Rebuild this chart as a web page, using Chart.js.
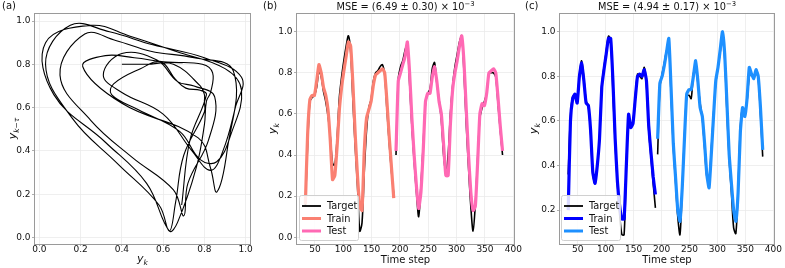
<!DOCTYPE html>
<html>
<head>
<meta charset="utf-8">
<script src="https://cdn.jsdelivr.net/npm/chart.js@4.4.1/dist/chart.umd.min.js"></script>
<style>
  body { margin: 0; background: #fff; }
  #wrap { position: relative; width: 785px; height: 268px; }
  canvas { position: absolute; top: 0; }
</style>
</head>
<body>
<div id="wrap">
  <canvas id="phaseChart" width="262" height="268" style="left:0"></canvas>
  <canvas id="predChartB" width="262" height="268" style="left:262px"></canvas>
  <canvas id="predChartC" width="261" height="268" style="left:524px"></canvas>
</div>
<script>
// time steps (every 4th step), train part and test part
const trainSteps = Array.from({length: 40}, (_, i) => 33 + 4 * i);   // 33 .. 189
const testSteps = Array.from({length: 48}, (_, i) => 193 + 4 * i);   // 193 .. 381

// panel (b)
const targetTrainB = [
    0.15, 0.45, 0.66, 0.68, 0.69, 0.73, 0.81, 0.78, 0.71, 0.66,
    0.59, 0.49, 0.36, 0.35, 0.48, 0.68, 0.78, 0.86, 0.93, 0.98,
    0.90, 0.66, 0.44, 0.25, 0.03, 0.07, 0.32, 0.52, 0.63, 0.67,
    0.76, 0.80, 0.81, 0.83, 0.84, 0.79, 0.62, 0.46, 0.32, 0.21
];
const targetTestB = [
    0.40, 0.77, 0.83, 0.86, 0.91, 0.94, 0.75, 0.54, 0.37, 0.22,
    0.10, 0.25, 0.45, 0.65, 0.70, 0.72, 0.82, 0.85, 0.75, 0.67,
    0.57, 0.40, 0.31, 0.40, 0.60, 0.74, 0.83, 0.89, 0.95, 0.98,
    0.80, 0.55, 0.34, 0.15, 0.03, 0.16, 0.38, 0.58, 0.63, 0.66,
    0.70, 0.80, 0.80, 0.80, 0.78, 0.65, 0.52, 0.40
];
const predTrainB = [
    0.16, 0.50, 0.67, 0.69, 0.69, 0.76, 0.84, 0.80, 0.73, 0.69,
    0.62, 0.47, 0.28, 0.30, 0.44, 0.62, 0.73, 0.81, 0.88, 0.95,
    0.93, 0.74, 0.50, 0.30, 0.15, 0.13, 0.42, 0.58, 0.62, 0.66,
    0.74, 0.79, 0.80, 0.81, 0.82, 0.80, 0.66, 0.49, 0.34, 0.19
];
const predTestB = [
    0.42, 0.76, 0.80, 0.84, 0.88, 0.95, 0.80, 0.58, 0.40, 0.25,
    0.14, 0.22, 0.42, 0.66, 0.70, 0.70, 0.78, 0.83, 0.76, 0.66,
    0.60, 0.45, 0.30, 0.30, 0.55, 0.72, 0.80, 0.86, 0.93, 0.98,
    0.85, 0.62, 0.40, 0.22, 0.13, 0.15, 0.36, 0.60, 0.65, 0.64,
    0.70, 0.80, 0.81, 0.82, 0.80, 0.68, 0.54, 0.42
];

// panel (c)
const targetTrainC = [
    0.36, 0.62, 0.71, 0.71, 0.69, 0.80, 0.87, 0.79, 0.69, 0.665,
    0.55, 0.36, 0.32, 0.40, 0.52, 0.76, 0.84, 0.91, 0.98, 0.96,
    0.73, 0.50, 0.32, 0.18, 0.09, 0.09, 0.40, 0.60, 0.58, 0.60,
    0.71, 0.81, 0.80, 0.79, 0.84, 0.76, 0.56, 0.44, 0.32, 0.21
];
const targetTestC = [
    0.45, 0.75, 0.81, 0.86, 0.915, 0.93, 0.72, 0.485, 0.33, 0.17,
    0.09, 0.30, 0.53, 0.71, 0.715, 0.70, 0.81, 0.85, 0.77, 0.68,
    0.61, 0.48, 0.35, 0.33, 0.47, 0.63, 0.77, 0.84, 0.91, 0.99,
    0.88, 0.64, 0.43, 0.28, 0.12, 0.095, 0.30, 0.57, 0.66, 0.64,
    0.69, 0.80, 0.81, 0.79, 0.82, 0.79, 0.63, 0.44
];
const predTrainC = [
    0.20, 0.60, 0.70, 0.72, 0.68, 0.80, 0.86, 0.78, 0.68, 0.67,
    0.56, 0.37, 0.32, 0.40, 0.52, 0.75, 0.83, 0.90, 0.97, 0.97,
    0.78, 0.52, 0.33, 0.22, 0.16, 0.16, 0.40, 0.63, 0.57, 0.59,
    0.70, 0.80, 0.81, 0.80, 0.83, 0.78, 0.58, 0.46, 0.35, 0.27
];
const predTestC = [
    0.52, 0.77, 0.80, 0.85, 0.91, 0.97, 0.75, 0.50, 0.35, 0.20,
    0.15, 0.30, 0.52, 0.72, 0.74, 0.74, 0.80, 0.87, 0.78, 0.66,
    0.62, 0.50, 0.36, 0.30, 0.45, 0.62, 0.78, 0.84, 0.92, 1.00,
    0.90, 0.68, 0.45, 0.32, 0.20, 0.15, 0.28, 0.55, 0.66, 0.62,
    0.70, 0.84, 0.81, 0.79, 0.83, 0.80, 0.66, 0.47
];

// tick labels
const unitTicks = [0, 0.2, 0.4, 0.6, 0.8, 1.0];
const stepTicks = [50, 100, 150, 200, 250, 300, 350, 400];

// delay for the phase plot: 4 samples = 16 time steps
const lag = 4;

const FONT = '"DejaVu Sans", sans-serif';
const TXT = '#111';

function pts(xs, ys) {
    return xs.map((x, i) => ({x: x, y: ys[i]}));
}

// y with an italic subscript, optionally rotated
function drawMath(ctx, base, sub, x, y, rotate) {
    ctx.save();
    ctx.translate(x, y);
    if (rotate) ctx.rotate(-Math.PI / 2);
    ctx.fillStyle = TXT;
    ctx.textAlign = 'left';
    ctx.textBaseline = 'alphabetic';
    ctx.font = 'italic 11px ' + FONT;
    const wb = ctx.measureText(base).width;
    ctx.font = 'italic 7.5px ' + FONT;
    const ws = ctx.measureText(sub).width;
    const x0 = -(wb + ws) / 2;
    ctx.font = 'italic 11px ' + FONT;
    ctx.fillText(base, x0, 2.5);
    ctx.font = 'italic 7.5px ' + FONT;
    ctx.fillText(sub, x0 + wb, 5.5);
    ctx.restore();
}

// frame, panel letter, titles, legend
const decor = {
    id: 'decor',
    afterDraw(chart, args, o) {
        const ctx = chart.ctx;
        const a = chart.chartArea;
        ctx.save();
        ctx.strokeStyle = '#9a9a9a';
        ctx.lineWidth = 1;
        ctx.strokeRect(Math.round(a.left) + 0.5, Math.round(a.top) + 0.5,
            Math.round(a.right - a.left) - 1, Math.round(a.bottom - a.top));

        ctx.fillStyle = TXT;
        ctx.font = '10px ' + FONT;
        ctx.textBaseline = 'middle';
        ctx.textAlign = 'left';
        ctx.fillText(o.letter, o.letterX, 6);

        const cx = (a.left + a.right) / 2;
        if (o.title) {
            ctx.font = '9.8px ' + FONT;
            const w1 = ctx.measureText(o.title).width;
            ctx.font = '6.8px ' + FONT;
            const w2 = ctx.measureText(o.sup).width;
            const x0 = cx - (w1 + w2) / 2;
            ctx.textAlign = 'left';
            ctx.font = '9.8px ' + FONT;
            ctx.fillText(o.title, x0, 7);
            ctx.font = '6.8px ' + FONT;
            ctx.fillText(o.sup, x0 + w1, 4);
        }
        if (o.xTitle) {
            ctx.font = '10px ' + FONT;
            ctx.textAlign = 'center';
            ctx.fillText(o.xTitle, cx, 260);
        } else {
            drawMath(ctx, 'y', 'k', cx, 259, false);
        }
        drawMath(ctx, 'y', o.ySub, o.yTitleX, (a.top + a.bottom) / 2, true);

        if (o.legend) {
            const L = o.legend;
            ctx.fillStyle = 'rgba(255,255,255,0.85)';
            ctx.strokeStyle = '#d0d0d0';
            ctx.lineWidth = 1;
            ctx.beginPath();
            ctx.roundRect(L.x + 0.5, 195.5, 59, 45, 2);
            ctx.fill();
            ctx.stroke();
            L.items.forEach((it, i) => {
                const y = 206 + i * 12.5;
                ctx.strokeStyle = it.color;
                ctx.lineWidth = it.width;
                ctx.beginPath();
                ctx.moveTo(L.x + 3, y);
                ctx.lineTo(L.x + 22, y);
                ctx.stroke();
                ctx.fillStyle = TXT;
                ctx.font = '9.8px ' + FONT;
                ctx.textAlign = 'left';
                ctx.textBaseline = 'middle';
                ctx.fillText(it.label, L.x + 28, y + 0.5);
            });
        }
        ctx.restore();
    }
};

function axis(min, max, ticks, size, isX) {
    return {
        type: 'linear',
        min: min,
        max: max,
        afterBuildTicks: s => { s.ticks = ticks.map(v => ({value: v})); },
        afterFit: s => { if (isX) s.height = size; else s.width = size; },
        border: {display: false},
        grid: {color: '#ebebeb', lineWidth: 0.8, tickColor: '#9a9a9a', tickLength: 2},
        ticks: {
            font: {family: FONT, size: 9},
            color: TXT,
            padding: isX ? -1.5 : 1.5,
            maxRotation: 0,
            autoSkip: false,
            callback: v => isX && max > 2 ? String(v) : v.toFixed(1)
        }
    };
}

// (a) phase portrait built from the target of panel (b)
const targetAllB = targetTrainB.concat(targetTestB);
const phasePts = targetAllB.slice(lag).map((v, i) => ({x: v, y: targetAllB[i]}));

new Chart(document.getElementById('phaseChart'), {
    type: 'scatter',
    data: {
        datasets: [{
            data: phasePts,
            showLine: true,
            borderColor: '#000',
            borderWidth: 1.1,
            pointRadius: 0,
            tension: 0.4
        }]
    },
    options: {
        animation: false,
        responsive: false,
        devicePixelRatio: 1,
        layout: {padding: {left: 0, right: 11, top: 13, bottom: 0}},
        scales: {
            x: axis(-0.026, 1.026, unitTicks, 24, true),
            y: axis(-0.03, 1.037, unitTicks, 34, false)
        },
        plugins: {
            legend: {display: false},
            tooltip: {enabled: false},
            decor: {letter: '(a)', letterX: 2, ySub: 'k\u2212\u03c4', yTitleX: 13}
        }
    },
    plugins: [decor]
});

function seriesChart(id, tgtTrain, tgtTest, prTrain, prTest, cols, yMin, yMax, yTicks, padRight, yWidth, title) {
    const target = pts(trainSteps, tgtTrain).concat([{x: 191, y: null}], pts(testSteps, tgtTest));
    return new Chart(document.getElementById(id), {
        type: 'line',
        data: {
            datasets: [
                {label: 'Target', data: target, borderColor: '#000', borderWidth: 1.6,
                 pointRadius: 0, tension: 0.3, order: 3},
                {label: 'Train', data: pts(trainSteps, prTrain), borderColor: cols[0], borderWidth: 3.2,
                 pointRadius: 0, tension: 0.15, order: 2},
                {label: 'Test', data: pts(testSteps, prTest), borderColor: cols[1], borderWidth: 3.2,
                 pointRadius: 0, tension: 0.15, order: 1}
            ]
        },
        options: {
            animation: false,
            responsive: false,
            devicePixelRatio: 1,
            layout: {padding: {left: 0, right: padRight, top: 13, bottom: 0}},
            scales: {
                x: axis(16.5, 403, stepTicks, 24, true),
                y: axis(yMin, yMax, yTicks, yWidth, false)
            },
            plugins: {
                legend: {display: false},
                tooltip: {enabled: false},
                decor: {
                    letter: title.letter, letterX: 1, ySub: 'k', yTitleX: title.yx,
                    title: title.text, sup: '\u22123', xTitle: 'Time step',
                    legend: {x: title.lx, items: [
                        {label: 'Target', color: '#000', width: 1.8},
                        {label: 'Train', color: cols[0], width: 3},
                        {label: 'Test', color: cols[1], width: 3}
                    ]}
                }
            }
        },
        plugins: [decor]
    });
}

seriesChart('predChartB', targetTrainB, targetTestB, predTrainB, predTestB,
    ['#fa8072', '#ff69b4'], -0.033, 1.091, unitTicks, 9, 34,
    {letter: '(b)', text: 'MSE = (6.49 \u00b1 0.30) \u00d7 10', yx: 11, lx: 37});

seriesChart('predChartC', targetTrainC, targetTestC, predTrainC, predTestC,
    ['#0000ff', '#1e90ff'], 0.048, 1.084, unitTicks.slice(1), 10, 35,
    {letter: '(c)', text: 'MSE = (4.94 \u00b1 0.17) \u00d7 10', yx: 10, lx: 37});
</script>
</body>
</html>
